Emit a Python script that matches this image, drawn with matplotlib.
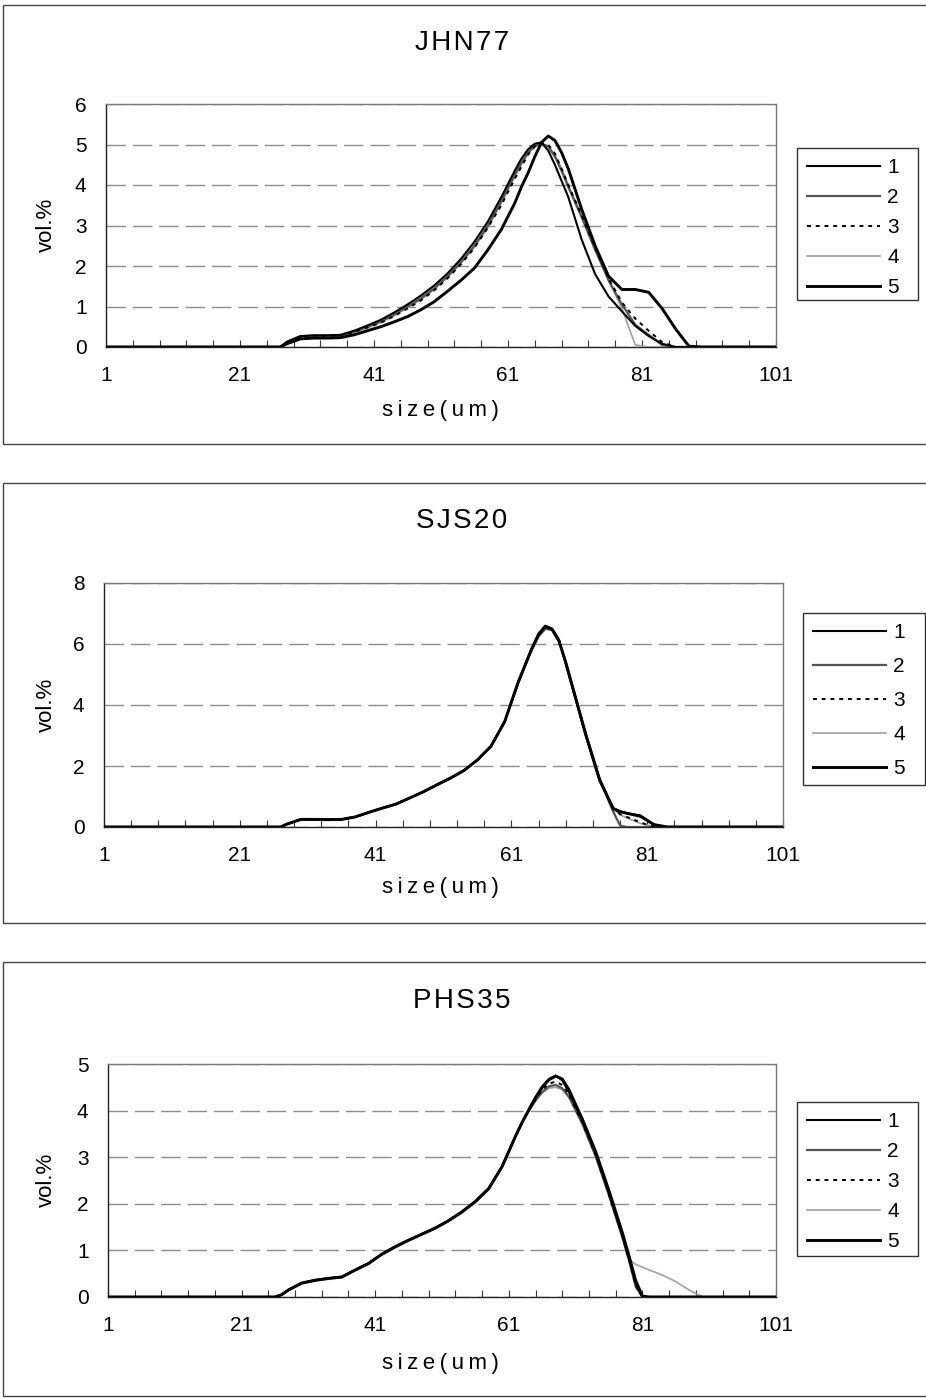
import matplotlib.pyplot as plt
from matplotlib.patches import Rectangle

plt.rcParams['font.family'] = ['Liberation Sans', 'DejaVu Sans']

# ------------------------------------------------------------
# particle size distributions, 5 runs per sample (vol.% vs size)
# ------------------------------------------------------------
series_names = ["1", "2", "3", "4", "5"]

# JHN77
jhn_size = [1, 26, 27, 28, 30, 32, 34, 36, 38, 40, 42, 44, 46, 48, 50, 52, 54, 56, 58, 60,
            62, 63, 64, 65, 66, 67, 68, 69, 70, 72, 74, 76, 78, 80, 82, 84, 86, 88, 90, 101]
jhn_1 = [0, 0, 0, 0.13, 0.27, 0.29, 0.29, 0.30, 0.40, 0.53, 0.67, 0.85, 1.05, 1.27, 1.52, 1.82, 2.18, 2.60, 3.10, 3.70,
         4.35, 4.65, 4.88, 5.02, 5.05, 4.85, 4.50, 4.10, 3.70, 2.65, 1.80, 1.25, 0.88, 0.52, 0.27, 0.08, 0, 0, 0, 0]
jhn_2 = [0, 0, 0, 0.12, 0.25, 0.27, 0.27, 0.28, 0.38, 0.50, 0.63, 0.80, 1.00, 1.20, 1.45, 1.75, 2.10, 2.50, 3.00, 3.60,
         4.25, 4.55, 4.80, 4.97, 5.02, 4.95, 4.70, 4.35, 3.95, 3.20, 2.40, 1.65, 1.05, 0.55, 0.30, 0.05, 0, 0, 0, 0]
jhn_3 = [0, 0, 0, 0.12, 0.26, 0.28, 0.28, 0.29, 0.37, 0.48, 0.60, 0.76, 0.95, 1.15, 1.40, 1.70, 2.05, 2.45, 2.95, 3.50,
         4.15, 4.45, 4.75, 4.95, 5.03, 5.00, 4.78, 4.40, 4.00, 3.25, 2.45, 1.70, 1.10, 0.70, 0.40, 0.12, 0, 0, 0, 0]
jhn_4 = [0, 0, 0, 0.10, 0.24, 0.26, 0.26, 0.27, 0.36, 0.47, 0.60, 0.77, 0.97, 1.17, 1.42, 1.72, 2.07, 2.47, 2.95, 3.55,
         4.20, 4.50, 4.78, 4.95, 5.00, 4.97, 4.75, 4.40, 4.00, 3.25, 2.45, 1.65, 0.95, 0.05, 0, 0, 0, 0, 0, 0]
jhn_5 = [0, 0, 0, 0.08, 0.20, 0.22, 0.22, 0.23, 0.30, 0.40, 0.50, 0.62, 0.75, 0.92, 1.12, 1.38, 1.65, 1.95, 2.40, 2.90,
         3.55, 3.95, 4.30, 4.70, 5.05, 5.21, 5.10, 4.80, 4.40, 3.40, 2.50, 1.75, 1.42, 1.42, 1.35, 0.95, 0.45, 0.02, 0, 0]

# SJS20
sjs_size = [1, 26, 27, 28, 30, 32, 34, 36, 38, 40, 42, 44, 46, 48, 50, 52, 54, 56, 58, 60,
            62, 63, 64, 65, 66, 67, 68, 69, 70, 72, 74, 76, 77, 78, 80, 82, 84, 90, 101]
sjs_1 = [0, 0, 0, 0.10, 0.25, 0.25, 0.24, 0.25, 0.33, 0.48, 0.62, 0.75, 0.95, 1.15, 1.38, 1.60, 1.85, 2.20, 2.65, 3.45,
         4.75, 5.30, 5.85, 6.35, 6.60, 6.50, 6.15, 5.35, 4.55, 2.95, 1.50, 0.62, 0.52, 0.45, 0.38, 0.07, 0, 0, 0]
sjs_2 = [0, 0, 0, 0.10, 0.25, 0.25, 0.24, 0.25, 0.33, 0.48, 0.62, 0.75, 0.95, 1.15, 1.38, 1.60, 1.85, 2.20, 2.65, 3.45,
         4.72, 5.28, 5.80, 6.25, 6.50, 6.45, 6.10, 5.40, 4.60, 3.00, 1.55, 0.50, 0.05, 0, 0, 0, 0, 0, 0]
sjs_3 = [0, 0, 0, 0.10, 0.25, 0.25, 0.24, 0.25, 0.33, 0.48, 0.62, 0.75, 0.95, 1.15, 1.38, 1.60, 1.85, 2.20, 2.65, 3.45,
         4.75, 5.30, 5.85, 6.30, 6.55, 6.50, 6.12, 5.40, 4.60, 3.00, 1.55, 0.60, 0.42, 0.33, 0.15, 0, 0, 0, 0]
sjs_4 = [0, 0, 0, 0.10, 0.25, 0.25, 0.24, 0.25, 0.33, 0.48, 0.62, 0.75, 0.95, 1.15, 1.38, 1.60, 1.85, 2.20, 2.65, 3.45,
         4.70, 5.25, 5.80, 6.25, 6.52, 6.48, 6.15, 5.45, 4.65, 3.05, 1.60, 0.60, 0.40, 0.30, 0.12, 0, 0, 0, 0]
sjs_5 = [0, 0, 0, 0.10, 0.25, 0.25, 0.24, 0.25, 0.33, 0.48, 0.62, 0.75, 0.95, 1.15, 1.38, 1.60, 1.85, 2.20, 2.65, 3.45,
         4.75, 5.30, 5.85, 6.30, 6.58, 6.48, 6.10, 5.40, 4.60, 3.00, 1.55, 0.60, 0.50, 0.45, 0.35, 0.08, 0, 0, 0]

# PHS35
phs_size = [1, 25, 26, 27, 28, 30, 32, 34, 36, 38, 40, 42, 44, 46, 48, 50, 52, 54, 56, 58, 60,
            62, 63, 64, 65, 66, 67, 68, 69, 70, 72, 74, 76, 78, 79, 80, 81, 82, 84, 86, 88, 90, 101]
phs_1 = [0, 0, 0, 0.05, 0.15, 0.30, 0.36, 0.40, 0.43, 0.58, 0.72, 0.92, 1.08, 1.22, 1.35, 1.48, 1.64, 1.83, 2.05, 2.33, 2.80,
         3.45, 3.75, 4.02, 4.28, 4.52, 4.68, 4.75, 4.65, 4.40, 3.78, 3.08, 2.22, 1.32, 0.82, 0.28, 0, 0, 0, 0, 0, 0, 0]
phs_2 = [0, 0, 0, 0.05, 0.15, 0.30, 0.36, 0.40, 0.43, 0.58, 0.72, 0.92, 1.08, 1.22, 1.35, 1.48, 1.64, 1.83, 2.05, 2.33, 2.80,
         3.45, 3.75, 4.00, 4.22, 4.40, 4.52, 4.55, 4.48, 4.30, 3.72, 3.02, 2.18, 1.28, 0.78, 0.22, 0, 0, 0, 0, 0, 0, 0]
phs_3 = [0, 0, 0, 0.05, 0.15, 0.30, 0.36, 0.40, 0.43, 0.58, 0.72, 0.92, 1.08, 1.22, 1.35, 1.48, 1.64, 1.83, 2.05, 2.33, 2.80,
         3.45, 3.75, 4.00, 4.24, 4.45, 4.58, 4.62, 4.55, 4.35, 3.75, 3.05, 2.20, 1.30, 0.80, 0.25, 0, 0, 0, 0, 0, 0, 0]
phs_4 = [0, 0, 0, 0.04, 0.13, 0.28, 0.34, 0.38, 0.41, 0.56, 0.70, 0.90, 1.05, 1.20, 1.33, 1.46, 1.62, 1.80, 2.02, 2.30, 2.78,
         3.42, 3.72, 3.98, 4.20, 4.38, 4.48, 4.50, 4.45, 4.28, 3.72, 3.02, 2.18, 1.28, 0.80, 0.70, 0.64, 0.58, 0.47, 0.33, 0.15, 0, 0]
phs_5 = [0, 0, 0, 0.05, 0.15, 0.30, 0.36, 0.40, 0.43, 0.58, 0.72, 0.92, 1.08, 1.22, 1.35, 1.48, 1.64, 1.83, 2.05, 2.33, 2.80,
         3.45, 3.75, 4.02, 4.28, 4.50, 4.66, 4.74, 4.68, 4.45, 3.82, 3.12, 2.28, 1.38, 0.88, 0.35, 0.02, 0, 0, 0, 0, 0, 0]

x_labels = [1, 21, 41, 61, 81, 101]

# ------------------------------------------------------------
# layout (pixels)
# ------------------------------------------------------------
W, H = 926, 1398
fig = plt.figure(figsize=(W / 100, H / 100), dpi=100)


def fx(px):
    return px / W


def fy(py):
    return 1 - py / H


styles = {
    "1": dict(color="black", lw=1.5, ls="-"),
    "2": dict(color="#555555", lw=1.6, ls="-"),
    "3": dict(color="black", lw=1.4, ls=(0, (2, 2.5))),
    "4": dict(color="#a0a0a0", lw=1.2, ls="-"),
    "5": dict(color="black", lw=2.1, ls="-"),
}

panels = [
    # title, sizes, runs, ymax, frame(top,bottom), axes(l,t,r,b),
    # legend box(l,t,r,b), first row centre, row spacing, text y's
    ("JHN77", jhn_size, [jhn_1, jhn_2, jhn_3, jhn_4, jhn_5], 6, (5, 444),
     (106, 104, 776, 347), (797, 148, 918, 300), 168, 0.53, (43, 225, 410)),
    ("SJS20", sjs_size, [sjs_1, sjs_2, sjs_3, sjs_4, sjs_5], 8, (483, 923),
     (104, 583, 783, 827), (803, 613, 925, 785), 633, 0.72, (521, 705, 887)),
    ("PHS35", phs_size, [phs_1, phs_2, phs_3, phs_4, phs_5], 5, (962, 1396),
     (108, 1064, 776, 1297), (797, 1102, 918, 1256), 1122, 0.53, (1001, 1180, 1363)),
]

for title, sizes, runs, ymax, frame, axb, lbox, row0, lsp, ty in panels:
    # outer chart frame, open to the right
    fig.add_artist(Rectangle((fx(3), fy(frame[1])), fx(W + 20), (frame[1] - frame[0]) / H,
                             transform=fig.transFigure, fill=False, edgecolor="#444444", lw=1.0))

    l, t, r, b = axb
    ax = fig.add_axes([fx(l), fy(b), (r - l) / W, (b - t) / H])

    order = [3, 1, 2, 0, 4]
    lines = {}
    for i in order:
        name = series_names[i]
        st = styles[name]
        ln, = ax.plot(sizes, runs[i], color=st["color"], lw=st["lw"], ls=st["ls"], label=name,
                      solid_joinstyle="round", zorder=3)
        lines[name] = ln

    ax.set_xlim(1, 101)
    ax.set_ylim(0, ymax)
    ax.set_xticks(x_labels)
    ax.set_xticks(range(1, 102, 4), minor=True)
    ax.set_yticks(range(0, ymax + 1, 1 if ymax <= 6 else 2))
    ax.tick_params(axis="x", which="both", direction="in", length=5, width=0.8, color="#333333",
                   labelsize=15, pad=14)
    ax.tick_params(axis="y", length=0, labelsize=15, pad=14)

    ax.yaxis.grid(True, color="#8c8c8c", lw=1.0, ls=(0, (14, 5)))
    ax.set_axisbelow(True)
    for side in ["top", "right"]:
        ax.spines[side].set_color("#7a7a7a")
        ax.spines[side].set_linewidth(1.0)
    for side in ["left", "bottom"]:
        ax.spines[side].set_color("#222222")
        ax.spines[side].set_linewidth(1.0)

    fig.text(fx(462), fy(ty[0]), "\u200a".join(title), ha="center", va="center", fontsize=20)
    fig.text(fx(46), fy(ty[1]), "vol.%", ha="center", va="center", fontsize=16, rotation=90)
    fig.text(fx(440), fy(ty[2]), "\u2009".join("size(um)"), ha="center", va="center", fontsize=16)

    # legend box drawn separately so its width is free
    bl, bt, br, bb = lbox
    fig.add_artist(Rectangle((fx(bl), fy(bb)), (br - bl) / W, (bb - bt) / H,
                             transform=fig.transFigure, fill=False, edgecolor="#333333", lw=1.0))
    ax.legend([lines[n] for n in series_names], series_names, loc="upper left",
              bbox_to_anchor=(fx(bl + 10), fy(row0 - 10)), bbox_transform=fig.transFigure,
              fontsize=15, handlelength=3.5, handletextpad=0.34, labelspacing=lsp,
              borderpad=0, borderaxespad=0, frameon=False)

fig.savefig("out.png", dpi=100)
